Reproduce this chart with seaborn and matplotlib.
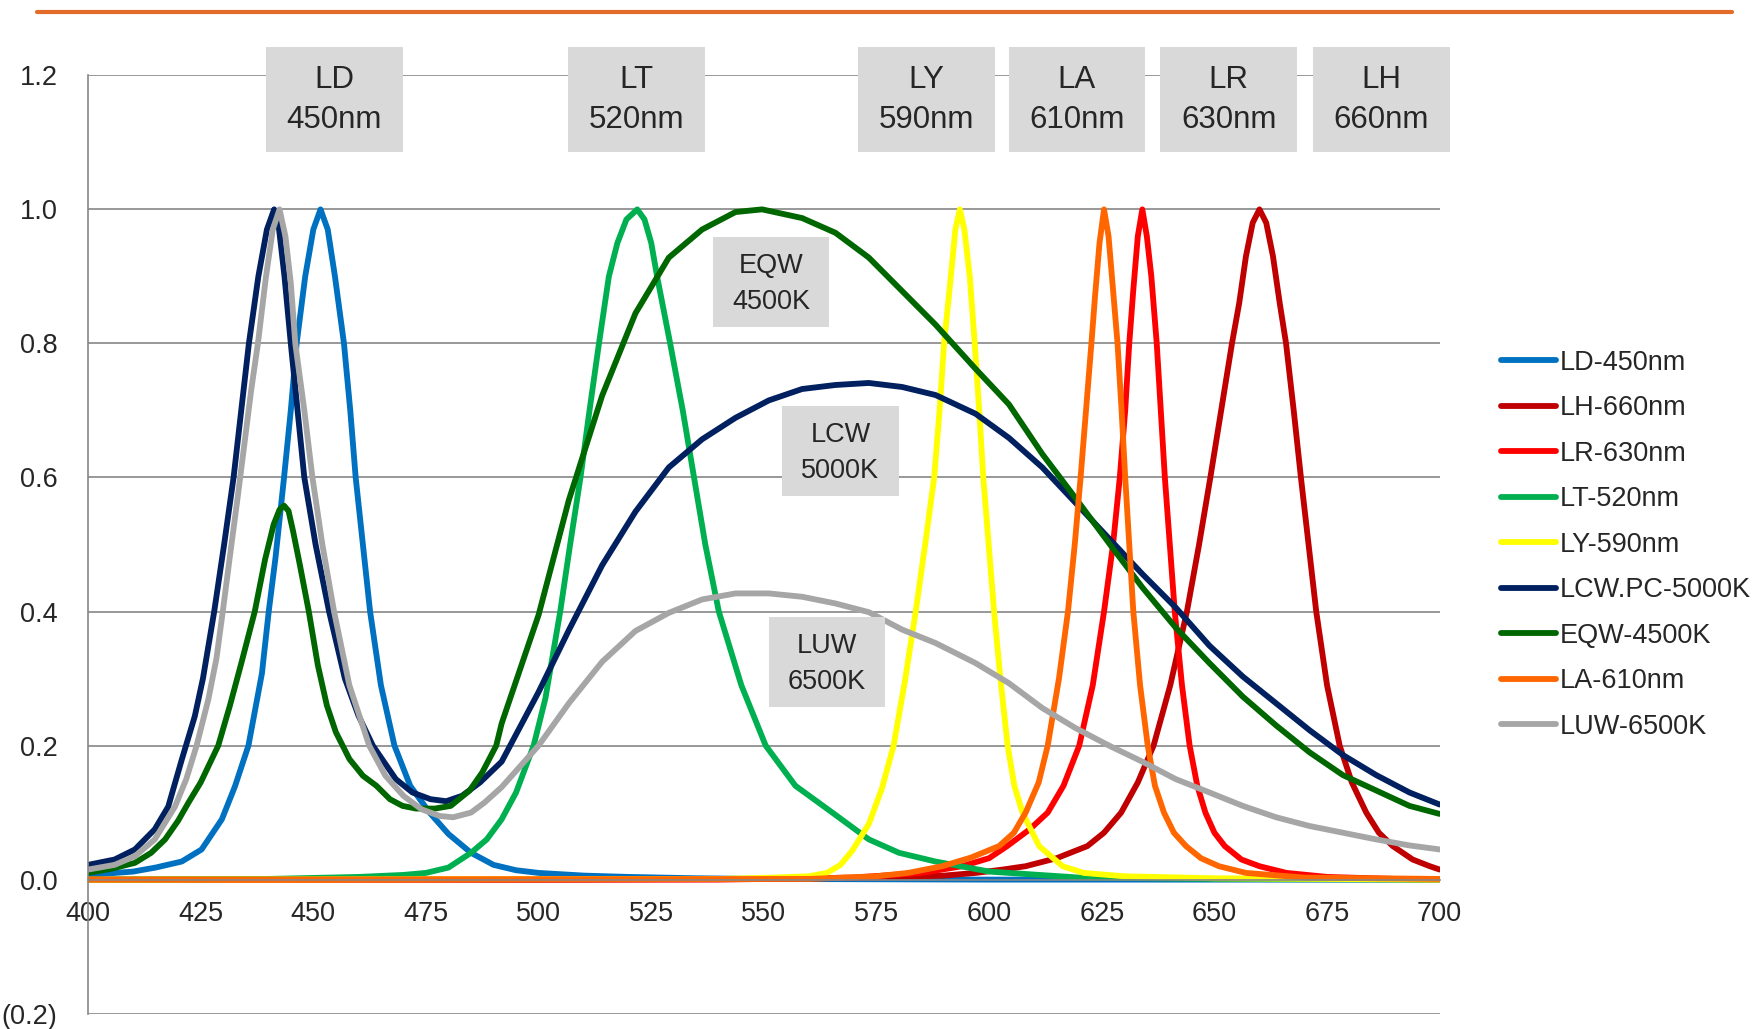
import matplotlib
matplotlib.use('Agg')
import matplotlib.pyplot as plt
from matplotlib.lines import Line2D
from matplotlib.patches import Rectangle
import seaborn as sns

# series names, in legend order (later ones drawn on top)
names = ['LD-450nm', 'LH-660nm', 'LR-630nm', 'LT-520nm', 'LY-590nm',
         'LCW.PC-5000K', 'EQW-4500K', 'LA-610nm', 'LUW-6500K']
colors = ['#0070C0', '#C00000', '#FF0000', '#00B050', '#FFFF00',
          '#002060', '#006600', '#FF6600', '#A6A6A6']

# values (wavelength nm, relative intensity)
ld_x = [400, 410, 415, 420.8, 425.2, 429.7, 432.6, 435.6, 438.6, 440.1, 441.6, 443.5, 445, 446.3, 448.2,
        450, 451.6, 453.2, 454.8, 456.8, 458.2, 459.4, 461, 462.6, 465, 468, 471.5, 475.8, 480, 485,
        490, 495, 500, 510, 520, 535, 550, 600, 700]
ld_y = [0.007, 0.012, 0.018, 0.027, 0.045, 0.09, 0.139, 0.20, 0.308, 0.40, 0.48, 0.60, 0.70, 0.80, 0.90,
        0.97, 1.00, 0.97, 0.90, 0.80, 0.70, 0.60, 0.50, 0.40, 0.29, 0.20, 0.14, 0.10, 0.068, 0.04,
        0.022, 0.014, 0.01, 0.006, 0.004, 0.002, 0.001, 0.0, 0.0]

lh_x = [400, 500, 550, 575, 590, 597, 603, 608.1, 615, 621.8, 625.5, 629.3, 633, 636.5, 640.2, 643.9,
        646.6, 649.1, 651.5, 653.9, 655.5, 657, 658.5, 660, 661.5, 663, 664.5, 665.9, 667.6, 669.2,
        670.9, 672.6, 675, 677.8, 680.5, 683.7, 686.5, 689.6, 694, 697.8, 700]
lh_y = [0, 0, 0.001, 0.003, 0.006, 0.01, 0.015, 0.02, 0.032, 0.05, 0.07, 0.10, 0.145, 0.20, 0.29, 0.40,
        0.50, 0.60, 0.70, 0.80, 0.86, 0.93, 0.98, 1.00, 0.98, 0.93, 0.86, 0.80, 0.70, 0.60,
        0.50, 0.40, 0.29, 0.20, 0.145, 0.10, 0.07, 0.05, 0.03, 0.02, 0.015]

lr_x = [400, 540, 570, 585, 594, 600, 604, 609, 613, 616.5, 620, 623, 625.5, 627.5, 629, 630.2, 631.1,
        632, 633, 634, 635, 636, 637.2, 638.1, 639, 640.1, 641.2, 642.8, 644.5, 646.2, 648, 650,
        652.3, 656, 660, 666, 675, 690, 700]
lr_y = [0, 0, 0.003, 0.01, 0.02, 0.032, 0.05, 0.075, 0.10, 0.14, 0.20, 0.29, 0.40, 0.50, 0.60, 0.70, 0.80,
        0.88, 0.96, 1.00, 0.96, 0.90, 0.80, 0.70, 0.60, 0.50, 0.40, 0.29, 0.20, 0.14, 0.10, 0.07,
        0.05, 0.03, 0.02, 0.01, 0.004, 0.001, 0.0]

lt_x = [400, 440, 460, 470, 475, 480, 485, 488.5, 491.8, 495, 498.9, 501.5, 504.8, 507, 509.3, 511.3,
        513.4, 515.6, 517.5, 519.5, 521.9, 523.5, 525, 526.3, 529.2, 532, 534.5, 537, 540, 545,
        550.4, 557, 565.2, 573.3, 580, 588.1, 600, 620, 650, 700]
lt_y = [0, 0.001, 0.004, 0.007, 0.01, 0.018, 0.04, 0.06, 0.09, 0.13, 0.20, 0.27, 0.40, 0.50, 0.60, 0.70,
        0.80, 0.90, 0.95, 0.985, 1.00, 0.985, 0.95, 0.90, 0.80, 0.70, 0.60, 0.50, 0.40, 0.29,
        0.20, 0.14, 0.10, 0.06, 0.04, 0.027, 0.012, 0.003, 0.001, 0.0]

ly_x = [400, 540, 552, 560, 564, 567, 569.6, 573.3, 576.2, 578.8, 581.4, 583.7, 585.8, 587.8, 589, 590,
        591.5, 592.5, 593.5, 594.5, 595.7, 596.8, 597.8, 598.7, 599.9, 601.1, 602.5, 604.1, 605.6,
        607.4, 611.1, 616.3, 621, 630, 650, 700]
ly_y = [0, 0.001, 0.003, 0.005, 0.01, 0.022, 0.043, 0.083, 0.136, 0.20, 0.30, 0.40, 0.50, 0.60, 0.70, 0.80,
        0.90, 0.97, 1.00, 0.97, 0.90, 0.80, 0.70, 0.60, 0.50, 0.40, 0.30, 0.20, 0.14,
        0.10, 0.05, 0.02, 0.01, 0.005, 0.002, 0.0]

lcw_x = [400, 405.9, 410.4, 414.8, 417.8, 420.8, 423.7, 425.5, 428, 430.2, 432.3, 434, 435.7, 437.8, 439.7,
         441.3, 442.4, 443.6, 445, 446.5, 448, 450.5, 453.5, 457, 460, 463.2, 468.3, 472, 476, 479.5,
         483, 487, 491.8, 500, 506.7, 514.1, 521.5, 528.9, 536.3, 543.7, 551.1, 558.5, 565.9, 573.3,
         580.7, 588.1, 597, 604.4, 611.8, 619.2, 626.6, 634, 641.4, 648.9, 656.3, 663.7, 671.1, 678.5,
         685.9, 693.3, 700]
lcw_y = [0.022, 0.03, 0.045, 0.075, 0.109, 0.179, 0.244, 0.30, 0.40, 0.50, 0.60, 0.70, 0.80, 0.90, 0.97,
         1.00, 0.97, 0.90, 0.80, 0.70, 0.60, 0.50, 0.40, 0.30, 0.245, 0.20, 0.15, 0.13, 0.12, 0.117,
         0.125, 0.145, 0.176, 0.28, 0.372, 0.469, 0.549, 0.615, 0.657, 0.689, 0.715, 0.732, 0.738, 0.741,
         0.735, 0.723, 0.695, 0.659, 0.615, 0.562, 0.509, 0.456, 0.406, 0.349, 0.303, 0.263, 0.223, 0.186,
         0.156, 0.130, 0.112]

eqw_x = [400, 405, 410.4, 414, 417.1, 420, 422.3, 425, 428.9, 431.5, 434.1, 437, 439.3, 441.2, 442.5,
         443.5, 444.5, 445.5, 447, 449, 451, 453, 455, 458, 461, 464, 467, 469.8, 472.8, 477, 480.5,
         484.7, 487.5, 490.6, 491.8, 500, 506.7, 514.1, 521.5, 528.9, 536.3, 543.7, 549.6, 558.5,
         565.9, 573.3, 580.7, 588.1, 597, 604.4, 611.8, 619.2, 626.6, 634, 641.4, 648.9, 656.3, 663.7,
         671.1, 678.5, 685.9, 693.3, 700]
eqw_y = [0.01, 0.016, 0.025, 0.04, 0.06, 0.088, 0.115, 0.145, 0.20, 0.26, 0.325, 0.40, 0.478, 0.53, 0.552,
         0.558, 0.55, 0.52, 0.47, 0.40, 0.32, 0.26, 0.22, 0.18, 0.155, 0.14, 0.12, 0.11, 0.106, 0.106, 0.11,
         0.133, 0.16, 0.20, 0.233, 0.395, 0.566, 0.722, 0.845, 0.928, 0.97, 0.996, 1.00, 0.987,
         0.965, 0.928, 0.878, 0.828, 0.762, 0.709, 0.635, 0.569, 0.502, 0.436, 0.376, 0.323, 0.273, 0.230,
         0.190, 0.156, 0.133, 0.110, 0.098]

la_x = [400, 560, 575, 582, 589.6, 596, 602.2, 605.5, 608.1, 611, 613, 615.5, 617.5, 619, 620.3, 621.5,
        622.7, 623.5, 624.5, 625.5, 626.5, 627.5, 628.5, 629.4, 630.2, 631.1, 632, 633.5, 635.2, 636.8,
        638.8, 641, 643.7, 647, 651, 657, 670, 700]
la_y = [0, 0.001, 0.005, 0.01, 0.02, 0.033, 0.05, 0.07, 0.10, 0.145, 0.20, 0.30, 0.40, 0.50, 0.60, 0.70,
        0.80, 0.87, 0.95, 1.00, 0.96, 0.88, 0.80, 0.70, 0.60, 0.50, 0.40, 0.29, 0.20, 0.14,
        0.10, 0.07, 0.05, 0.032, 0.02, 0.01, 0.003, 0.001]

luw_x = [400, 405.9, 410.4, 414.8, 419.3, 421.8, 424.1, 426.7, 428.5, 429.9, 431.4, 433.2, 434.7, 436.2,
         437.7, 439.5, 441, 442.5, 443.8, 445, 446, 448, 449.8, 452, 454.6, 458, 462.4, 466, 470, 474,
         478, 481, 485, 488, 491.8, 500, 506.7, 514.1, 521.5, 528.9, 536.3, 543.7, 551.1, 558.5, 565.9,
         573.3, 580.7, 588.1, 597, 604.4, 611.8, 619.2, 626.6, 634, 641.4, 648.9, 656.3, 663.7, 671.1,
         678.5, 685.9, 693.3, 700]
luw_y = [0.015, 0.022, 0.035, 0.06, 0.109, 0.15, 0.20, 0.269, 0.33, 0.40, 0.478, 0.57, 0.65, 0.73,
         0.80, 0.90, 0.97, 1.00, 0.96, 0.89, 0.80, 0.70, 0.60, 0.50, 0.40, 0.29, 0.20, 0.155, 0.125, 0.105,
         0.095, 0.093, 0.10, 0.115, 0.138, 0.20, 0.263, 0.325, 0.371, 0.398, 0.418, 0.427, 0.427, 0.422, 0.412,
         0.399, 0.373, 0.353, 0.323, 0.293, 0.256, 0.226, 0.20, 0.176, 0.15, 0.13, 0.11, 0.093, 0.08,
         0.07, 0.06, 0.051, 0.045]

series_x = [ld_x, lh_x, lr_x, lt_x, ly_x, lcw_x, eqw_x, la_x, luw_x]
series_y = [ld_y, lh_y, lr_y, lt_y, ly_y, lcw_y, eqw_y, la_y, luw_y]

# label boxes: text, centre wavelength, centre value
big_labels = ['LD\n450nm', 'LT\n520nm', 'LY\n590nm', 'LA\n610nm', 'LR\n630nm', 'LH\n660nm']
big_x = [454.6, 521.8, 586.1, 619.5, 653.2, 687.0]
small_labels = ['EQW\n4500K', 'LCW\n5000K', 'LUW\n6500K']
small_x = [551.6, 567.0, 564.0]
small_y = [0.889, 0.636, 0.3215]

yticks = [-0.2, 0.0, 0.2, 0.4, 0.6, 0.8, 1.0, 1.2]
xticks = list(range(400, 701, 25))

sns.set_style('white')
plt.rcParams['font.family'] = ['Liberation Sans', 'DejaVu Sans']

fig = plt.figure(figsize=(17.54, 10.29), dpi=100)
ax = fig.add_axes([0.0502, 0.0149, 0.7706, 0.9119])

for nm, c, xs, ys in zip(names, colors, series_x, series_y):
    sns.lineplot(x=xs, y=ys, ax=ax, color=c, linewidth=4.2, label=nm, sort=False, estimator=None)
for ln in ax.lines:
    ln.set_linewidth(4.2)
    ln.set_solid_capstyle('round')
    ln.set_solid_joinstyle('round')

ax.set_xlim(400, 700)
ax.set_ylim(-0.2, 1.2)
ax.set_xticks(xticks)
ax.set_yticks(yticks)
ax.set_yticklabels([f'({abs(v):.1f})' if v < 0 else f'{v:.1f}' for v in yticks])
ax.set_xlabel('')
ax.set_ylabel('')

grid_c = '#868686'
ax.yaxis.grid(True, color=grid_c, lw=1.2, zorder=0)
ax.xaxis.grid(False)
ax.set_axisbelow(True)
for s in ['top', 'right']:
    ax.spines[s].set_visible(False)
ax.spines['left'].set_color(grid_c)
ax.spines['left'].set_linewidth(1.2)
ax.spines['bottom'].set_position(('data', 0))
ax.spines['bottom'].set_color(grid_c)
ax.spines['bottom'].set_linewidth(1.2)
ax.tick_params(axis='y', direction='out', length=6, width=1.2, color=grid_c, pad=16, labelsize=19.5)
ax.tick_params(axis='x', direction='out', length=4, width=1.2, color=grid_c, pad=11.5, labelsize=19.5)

# grey label boxes
for lab, cx in zip(big_labels, big_x):
    ax.add_patch(Rectangle((cx - 15.2, 1.1637 - 0.078), 30.4, 0.156, fc='#D9D9D9', ec='none',
                           clip_on=False, zorder=5))
    ax.text(cx, 1.1637, lab, ha='center', va='center', fontsize=22.5, linespacing=1.43,
            zorder=6, clip_on=False)
for lab, cx, cy in zip(small_labels, small_x, small_y):
    ax.add_patch(Rectangle((cx - 12.9, cy + 0.003 - 0.067), 25.8, 0.134, fc='#D9D9D9', ec='none',
                           zorder=5))
    ax.text(cx, cy, lab, ha='center', va='center', fontsize=19.5, linespacing=1.5, zorder=6)

handles, labels = ax.get_legend_handles_labels()
ax.legend(handles, labels, loc='center left', bbox_to_anchor=(1500.7 / 1754, 0.4708),
          bbox_transform=fig.transFigure, frameon=False, fontsize=19.5, borderpad=0,
          borderaxespad=0, handlelength=2.03, handletextpad=0.15, labelspacing=0.72)

# orange rule at the top
fig.add_artist(Line2D([37.3 / 1754, 1731.6 / 1754], [1 - 12 / 1029] * 2, color='#E46C2A', lw=3))

fig.savefig('out.png', dpi=100)
